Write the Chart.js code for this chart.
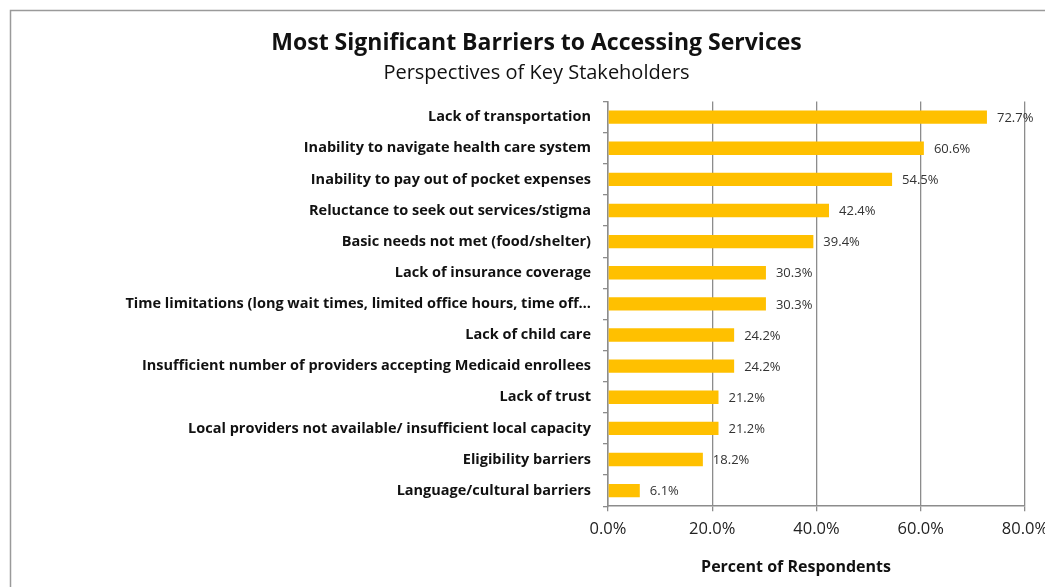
<!DOCTYPE html>
<html>
<head>
<meta charset="utf-8">
<script src="https://cdn.jsdelivr.net/npm/chart.js@4.4.0/dist/chart.umd.min.js"></script>
<style>
  html, body { margin: 0; padding: 0; background: #ffffff; }
  #wrap { width: 1045px; height: 587px; position: relative; }
</style>
</head>
<body>
<div id="wrap"><canvas id="chart"></canvas></div>
<script>
const barriers = [
  "Lack of transportation",
  "Inability to navigate health care system",
  "Inability to pay out of pocket expenses",
  "Reluctance to seek out services/stigma",
  "Basic needs not met (food/shelter)",
  "Lack of insurance coverage",
  "Time limitations (long wait times, limited office hours, time off\u2026",
  "Lack of child care",
  "Insufficient number of providers accepting Medicaid enrollees",
  "Lack of trust",
  "Local providers not available/ insufficient local capacity",
  "Eligibility barriers",
  "Language/cultural barriers"
];
const percentRespondents = [72.7, 60.6, 54.5, 42.4, 39.4, 30.3, 30.3, 24.2, 24.2, 21.2, 21.2, 18.2, 6.1];

const FONT = "'Open Sans', Lato, sans-serif";
const GRID = "#8c8c8c";

// outer frame around the whole chart
const framePlugin = {
  id: "frame",
  beforeDraw(chart) {
    const ctx = chart.ctx;
    ctx.save();
    ctx.strokeStyle = "#9a9a9a";
    ctx.lineWidth = 1.5;
    ctx.strokeRect(10.5, 10.5, chart.width + 20, chart.height + 20);
    ctx.restore();
  }
};

// value labels to the right of each bar, plus the x-axis caption
const valueLabels = {
  id: "valueLabels",
  afterDatasetsDraw(chart) {
    const ctx = chart.ctx;
    const meta = chart.getDatasetMeta(0);
    ctx.save();
    ctx.font = "13px " + FONT;
    ctx.fillStyle = "#333333";
    ctx.textAlign = "left";
    ctx.textBaseline = "middle";
    meta.data.forEach((bar, i) => {
      ctx.fillText(percentRespondents[i].toFixed(1) + "%", bar.x + 10, bar.y + 1);
    });
    ctx.font = "bold 16px " + FONT;
    ctx.fillStyle = "#111111";
    ctx.textAlign = "center";
    ctx.fillText("Percent of Respondents", 796, 567);
    ctx.restore();
  }
};

new Chart(document.getElementById("chart"), {
  type: "bar",
  data: {
    labels: barriers,
    datasets: [{
      data: percentRespondents,
      backgroundColor: "#FFC000",
      borderWidth: 0,
      categoryPercentage: 1,
      barPercentage: 0.43
    }]
  },
  options: {
    indexAxis: "y",
    responsive: true,
    maintainAspectRatio: false,
    animation: false,
    layout: { padding: { left: 48, right: 20, top: 0, bottom: 40 } },
    plugins: {
      legend: { display: false },
      tooltip: { enabled: false },
      title: {
        display: true,
        text: "Most Significant Barriers to Accessing Services",
        color: "#111111",
        font: { family: FONT, size: 23, weight: "bold" },
        padding: { top: 30, bottom: 4 }
      },
      subtitle: {
        display: true,
        text: "Perspectives of Key Stakeholders",
        color: "#111111",
        font: { family: FONT, size: 20, weight: "normal" },
        padding: { top: 0, bottom: 16 }
      }
    },
    scales: {
      x: {
        min: 0,
        max: 80,
        // let the last tick label run past the edge instead of shrinking the plot
        afterFit(scale) { scale.paddingRight = 0; },
        ticks: {
          stepSize: 20,
          padding: 8,
          color: "#222222",
          font: { family: FONT, size: 16.5 },
          callback: (v) => v.toFixed(1) + "%"
        },
        grid: {
          color: GRID,
          lineWidth: 1.3,
          tickLength: 5,
          tickColor: GRID
        },
        border: { color: GRID, width: 1.5 }
      },
      y: {
        afterFit(scale) { scale.width = 560; },
        ticks: {
          padding: 12,
          color: "#111111",
          font: { family: FONT, size: 14.5, weight: "bold" }
        },
        grid: {
          drawOnChartArea: false,
          offset: true,
          tickLength: 5,
          tickColor: GRID,
          lineWidth: 1.3
        },
        border: { color: GRID, width: 1.5 }
      }
    }
  },
  plugins: [framePlugin, valueLabels]
});
</script>
</body>
</html>
